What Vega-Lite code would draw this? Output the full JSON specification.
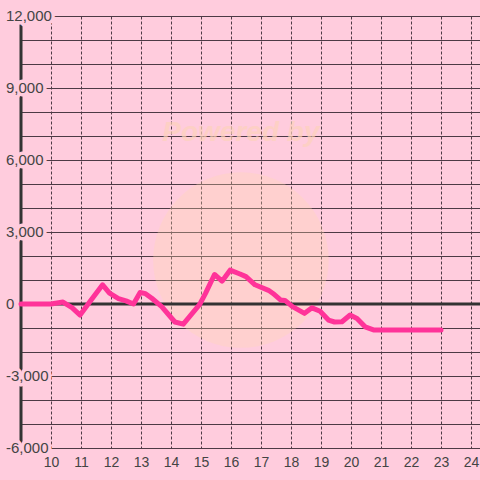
{
  "$schema": "https://vega.github.io/schema/vega-lite/v6.json",
  "width": 459,
  "height": 432,
  "autosize": {"type": "none"},
  "padding": {"left": 21, "top": 16, "right": 0, "bottom": 32},
  "background": "#ffccdd",
  "config": {
    "view": {"stroke": null},
    "font": "Liberation Sans"
  },
  "resolve": {"axis": {"x": "independent", "y": "independent"}},
  "datasets": {
    "series": [
      {"hour": 9.0, "value": 0},
      {"hour": 9.5, "value": 0},
      {"hour": 10.0, "value": 0},
      {"hour": 10.4, "value": 80},
      {"hour": 10.7, "value": -150},
      {"hour": 10.97, "value": -460},
      {"hour": 11.3, "value": 100},
      {"hour": 11.72, "value": 800},
      {"hour": 11.95, "value": 450},
      {"hour": 12.25, "value": 220},
      {"hour": 12.5, "value": 130},
      {"hour": 12.75, "value": 0},
      {"hour": 12.97, "value": 480},
      {"hour": 13.15, "value": 430},
      {"hour": 13.36, "value": 240},
      {"hour": 13.69, "value": -110},
      {"hour": 14.13, "value": -750},
      {"hour": 14.41, "value": -840},
      {"hour": 14.95, "value": -30},
      {"hour": 15.15, "value": 440},
      {"hour": 15.45, "value": 1230},
      {"hour": 15.7, "value": 950},
      {"hour": 15.97, "value": 1410},
      {"hour": 16.3, "value": 1250},
      {"hour": 16.5, "value": 1140},
      {"hour": 16.8, "value": 800},
      {"hour": 17.25, "value": 570},
      {"hour": 17.4, "value": 440},
      {"hour": 17.65, "value": 170},
      {"hour": 17.8, "value": 150},
      {"hour": 18.05, "value": -110},
      {"hour": 18.45, "value": -390},
      {"hour": 18.7, "value": -160},
      {"hour": 18.97, "value": -300},
      {"hour": 19.25, "value": -670},
      {"hour": 19.45, "value": -750},
      {"hour": 19.7, "value": -740},
      {"hour": 19.97, "value": -460},
      {"hour": 20.2, "value": -600},
      {"hour": 20.47, "value": -950},
      {"hour": 20.75, "value": -1080},
      {"hour": 21.0, "value": -1080},
      {"hour": 22.0, "value": -1080},
      {"hour": 23.0, "value": -1080}
    ],
    "ylabels": [
      {"value": 12000, "label": "12,000"},
      {"value": 9000, "label": "9,000"},
      {"value": 6000, "label": "6,000"},
      {"value": 3000, "label": "3,000"},
      {"value": 0, "label": "0"},
      {"value": -3000, "label": "-3,000"},
      {"value": -6000, "label": "-6,000"}
    ],
    "watermark": [
      {"hour": 16.33, "value": 1830, "text": "Powered by", "tvalue": 7125}
    ]
  },
  "layer": [
    {
      "data": {"name": "watermark"},
      "mark": {"type": "point", "filled": true, "fill": "#ffdcb0", "opacity": 0.3, "size": 30800, "shape": "circle"},
      "encoding": {
        "x": {"field": "hour", "type": "quantitative", "scale": {"domain": [9, 24.3], "nice": false, "zero": false},
          "axis": {"values": [10, 11, 12, 13, 14, 15, 16, 17, 18, 19, 20, 21, 22, 23, 24], "title": null, "domain": false, "ticks": false,
            "grid": true, "gridColor": "#4d3a45", "gridWidth": 1, "gridDash": [3, 2], "labelOverlap": false,
            "labelFontSize": 14, "labelColor": "#444444", "labelPadding": 7, "labelFont": "Liberation Sans"}},
        "y": {"field": "value", "type": "quantitative", "scale": {"domain": [-6000, 12000], "nice": false, "zero": false},
          "axis": {"values": [-6000, -5000, -4000, -3000, -2000, -1000, 0, 1000, 2000, 3000, 4000, 5000, 6000, 7000, 8000, 9000, 10000, 11000, 12000],
            "title": null, "domain": false, "ticks": false, "labels": false,
            "grid": true, "gridColor": "#4d3a45", "gridWidth": 1}}
      }
    },
    {
      "data": {"name": "watermark"},
      "mark": {"type": "text", "fontSize": 28, "fontWeight": "bold", "fontStyle": "italic", "fill": "#fdd2bc", "opacity": 0.7, "align": "center", "baseline": "middle"},
      "encoding": {
        "x": {"field": "hour", "type": "quantitative", "axis": null},
        "y": {"field": "tvalue", "type": "quantitative", "axis": null},
        "text": {"field": "text"}
      }
    },
    {
      "data": {"values": [{"v": 0}]},
      "mark": {"type": "rule", "color": "#333333", "strokeWidth": 3},
      "encoding": {
        "y": {"datum": 0, "type": "quantitative", "axis": null},
        "x": {"datum": 9, "type": "quantitative", "axis": null},
        "x2": {"datum": 24.3}
      }
    },
    {
      "data": {"values": [{"v": 0}]},
      "mark": {"type": "rule", "color": "#333333", "strokeWidth": 3},
      "encoding": {
        "x": {"datum": 9, "type": "quantitative", "axis": null},
        "y": {"datum": -6000, "type": "quantitative", "axis": null},
        "y2": {"datum": 12000}
      }
    },
    {
      "data": {"name": "series"},
      "mark": {"type": "line", "color": "#ff3399", "strokeWidth": 5, "strokeJoin": "round", "strokeCap": "round"},
      "encoding": {
        "x": {"field": "hour", "type": "quantitative", "axis": null},
        "y": {"field": "value", "type": "quantitative", "axis": null}
      }
    },
    {
      "data": {"name": "ylabels"},
      "mark": {"type": "text", "align": "left", "baseline": "middle", "dx": -15, "fontSize": 15, "font": "Liberation Sans",
        "fill": "#ffccdd", "stroke": "#ffccdd", "strokeWidth": 7, "strokeJoin": "round"},
      "encoding": {
        "x": {"datum": 9, "type": "quantitative", "axis": null},
        "y": {"field": "value", "type": "quantitative", "axis": null},
        "text": {"field": "label"}
      }
    },
    {
      "data": {"name": "ylabels"},
      "mark": {"type": "text", "align": "left", "baseline": "middle", "dx": -15, "fontSize": 15, "font": "Liberation Sans", "fill": "#444444"},
      "encoding": {
        "x": {"datum": 9, "type": "quantitative", "axis": null},
        "y": {"field": "value", "type": "quantitative", "axis": null},
        "text": {"field": "label"}
      }
    }
  ]
}
